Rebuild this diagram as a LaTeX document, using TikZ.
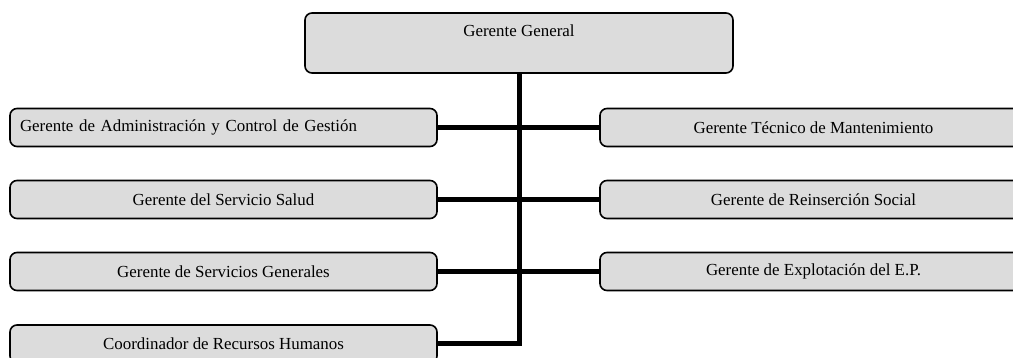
\documentclass[tikz,border=0pt]{standalone}
\usepackage{fontspec}
\setmainfont{Liberation Serif}
\definecolor{boxgray}{HTML}{DCDCDC}
\begin{document}
\begin{tikzpicture}[x=1pt,y=1pt,
  box/.style={draw=black, line width=1.6pt, fill=boxgray, rounded corners=7pt,
    minimum width=427pt, minimum height=38pt, inner sep=0pt,
    font=\fontsize{16.9pt}{20pt}\selectfont},
  link/.style={line width=5pt, draw=black},
  lbl/.style={font=\fontsize{16.9pt}{20pt}\selectfont, inner sep=0pt}]
\useasboundingbox (0,0) rectangle (1013,-358);
% top box
\node[box, minimum width=428pt, minimum height=60pt] (GG) at (519,-43) {};
\node[lbl] (GGt) at (519,-31) {Gerente General};
% left column
\node[box, text width=407pt, inner xsep=10pt, align=left] (L1) at (223.5,-127.5) {Gerente de Administración y Control de Gestión};
\node[box] (L2) at (223.5,-199.5) {Gerente del Servicio Salud};
\node[box] (L3) at (223.5,-271.5) {Gerente de Servicios Generales};
\node[box] (L4) at (223.5,-344) {Coordinador de Recursos Humanos};
% right column
\node[box] (R1) at (813.5,-127.5) {Gerente Técnico de Mantenimiento};
\node[box] (R2) at (813.5,-199.5) {Gerente de Reinserción Social};
\node[box] (R3) at (813.5,-271.5) {Gerente de Explotación del E.P.};
% connectors
\coordinate (bot) at (519,-344);
\draw[link] (GG.south) -- (bot);
\draw[link] (L1.east) -- (R1.west);
\draw[link] (L2.east) -- (R2.west);
\draw[link] (L3.east) -- (R3.west);
\draw[link, line join=miter] (L4.east) -- ([xshift=2.5pt]bot);
\end{tikzpicture}
\end{document}
